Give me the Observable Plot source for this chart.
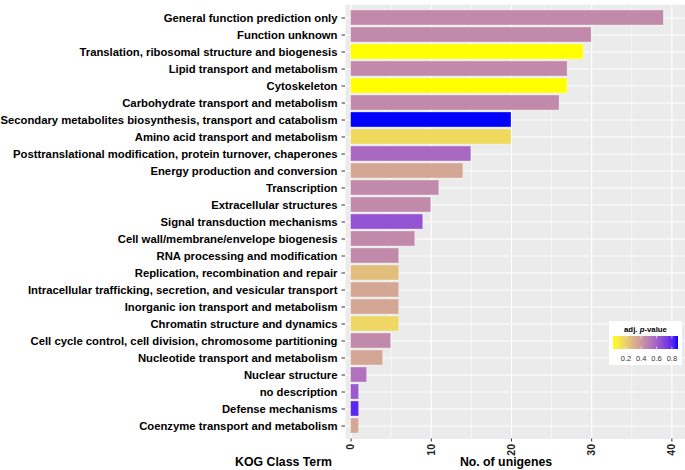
<!DOCTYPE html>
<html>
<head>
<meta charset="utf-8">
<script src="https://cdn.jsdelivr.net/npm/d3@7"></script>
<script src="https://cdn.jsdelivr.net/npm/@observablehq/plot@0.6"></script>
<style>
  html, body { margin: 0; padding: 0; background: white; }
  #wrap { position: relative; width: 685px; height: 470px; }
  #wrap > svg { position: absolute; left: 0; top: 0; }
</style>
</head>
<body>
<div id="wrap"></div>
<script>
// Categories (top to bottom)
const terms = [
  "General function prediction only",
  "Function unknown",
  "Translation, ribosomal structure and biogenesis",
  "Lipid transport and metabolism",
  "Cytoskeleton",
  "Carbohydrate transport and metabolism",
  "Secondary metabolites biosynthesis, transport and catabolism",
  "Amino acid transport and metabolism",
  "Posttranslational modification, protein turnover, chaperones",
  "Energy production and conversion",
  "Transcription",
  "Extracellular structures",
  "Signal transduction mechanisms",
  "Cell wall/membrane/envelope biogenesis",
  "RNA processing and modification",
  "Replication, recombination and repair",
  "Intracellular trafficking, secretion, and vesicular transport",
  "Inorganic ion transport and metabolism",
  "Chromatin structure and dynamics",
  "Cell cycle control, cell division, chromosome partitioning",
  "Nucleotide transport and metabolism",
  "Nuclear structure",
  "no description",
  "Defense mechanisms",
  "Coenzyme transport and metabolism"
];
// Number of unigenes
const counts = [39, 30, 29, 27, 27, 26, 20, 20, 15, 14, 11, 10, 9, 8, 6, 6, 6, 6, 6, 5, 4, 2, 1, 1, 1];
// Adjusted p-values (estimated from colours)
const pvalues = [0.45, 0.45, 0.03, 0.45, 0.03, 0.45, 0.88, 0.16, 0.57, 0.35, 0.45, 0.45, 0.65, 0.45, 0.45, 0.26, 0.35, 0.35, 0.17, 0.45, 0.35, 0.54, 0.63, 0.80, 0.35];
// Tick labels
const xTicks = [0, 10, 20, 30, 40];
const xMinor = [5, 15, 25, 35];
const legendTicks = [0.2, 0.4, 0.6, 0.8];
const pDomain = [0.03, 0.88];

const data = terms.map((t, i) => ({term: t, n: counts[i], p: pvalues[i]}));

const font = "'Liberation Sans', Arial, Helvetica, sans-serif";

const chart = Plot.plot({
  width: 685,
  height: 470,
  marginLeft: 345,
  marginRight: 0,
  marginTop: 4.2,
  marginBottom: 31.5,
  style: {fontFamily: font, background: "transparent"},
  x: {domain: [-0.7, 41.7], label: null},
  y: {domain: terms, paddingInner: 0.1, paddingOuter: 0.15, label: null},
  color: {type: "linear", domain: pDomain, range: ["#FFFF00", "#0000FF"], interpolate: d3.interpolateLab},
  marks: [
    Plot.frame({fill: "#EBEBEB", stroke: null}),
    Plot.ruleX(xMinor, {stroke: "white", strokeWidth: 0.55}),
    Plot.ruleX(xTicks, {stroke: "white", strokeWidth: 1.1}),
    Plot.ruleY(terms, {y: d => d, stroke: "white", strokeWidth: 1.1}),
    Plot.barX(data, {x: "n", y: "term", fill: "p", stroke: "white", strokeOpacity: 0.45, strokeWidth: 0.7}),
    Plot.axisY({tickSize: 3.5, tickPadding: 4.5, fontSize: 11.3, fontWeight: "bold", color: "black", stroke: "#333", label: null}),
    Plot.axisX(xTicks, {tickSize: 3, tickPadding: 2, tickRotate: -90, fontSize: 10.5, fontWeight: "bold", color: "#222", stroke: "#333", label: null})
  ]
});

const wrap = document.getElementById("wrap");
wrap.appendChild(chart);

// Overlay: axis titles and colour legend
const colorScale = chart.scale("color");
const ov = d3.select(wrap).append("svg")
  .attr("width", 685).attr("height", 470)
  .style("pointer-events", "none")
  .style("font-family", font);

ov.append("text").attr("x", 283.5).attr("y", 466).attr("text-anchor", "middle")
  .attr("font-size", 12.3).attr("font-weight", "bold").attr("fill", "black").text("KOG Class Term");
ov.append("text").attr("x", 506).attr("y", 466).attr("text-anchor", "middle")
  .attr("font-size", 12.3).attr("font-weight", "bold").attr("fill", "black").text("No. of unigenes");

// Legend
const lg = ov.append("g");
lg.append("rect").attr("x", 609).attr("y", 321).attr("width", 73).attr("height", 44).attr("fill", "white");
const title = lg.append("text").attr("x", 645.5).attr("y", 332).attr("text-anchor", "middle")
  .attr("font-size", 7.8).attr("font-weight", "bold").attr("fill", "black");
title.append("tspan").text("adj. ");
title.append("tspan").attr("font-style", "italic").text("p");
title.append("tspan").text("-value");

const defs = ov.append("defs");
const grad = defs.append("linearGradient").attr("id", "pgrad").attr("x1", "0%").attr("x2", "100%");
d3.range(0, 1.0001, 0.05).forEach(f => {
  const v = pDomain[0] + f * (pDomain[1] - pDomain[0]);
  grad.append("stop").attr("offset", (f * 100) + "%").attr("stop-color", colorScale.apply(v));
});
const bx0 = 613, bx1 = 678, by0 = 336, by1 = 349;
lg.append("rect").attr("x", bx0).attr("y", by0).attr("width", bx1 - bx0).attr("height", by1 - by0).attr("fill", "url(#pgrad)");
const lx = v => bx0 + (v - pDomain[0]) / (pDomain[1] - pDomain[0]) * (bx1 - bx0);
legendTicks.forEach(v => {
  lg.append("line").attr("x1", lx(v)).attr("x2", lx(v)).attr("y1", by0).attr("y2", by0 + 2.5).attr("stroke", "white").attr("stroke-width", 0.6);
  lg.append("line").attr("x1", lx(v)).attr("x2", lx(v)).attr("y1", by1 - 2.5).attr("y2", by1).attr("stroke", "white").attr("stroke-width", 0.6);
  lg.append("text").attr("x", lx(v)).attr("y", 360.5).attr("text-anchor", "middle")
    .attr("font-size", 7.5).attr("fill", "#333").text(v.toFixed(1));
});
</script>
</body>
</html>
